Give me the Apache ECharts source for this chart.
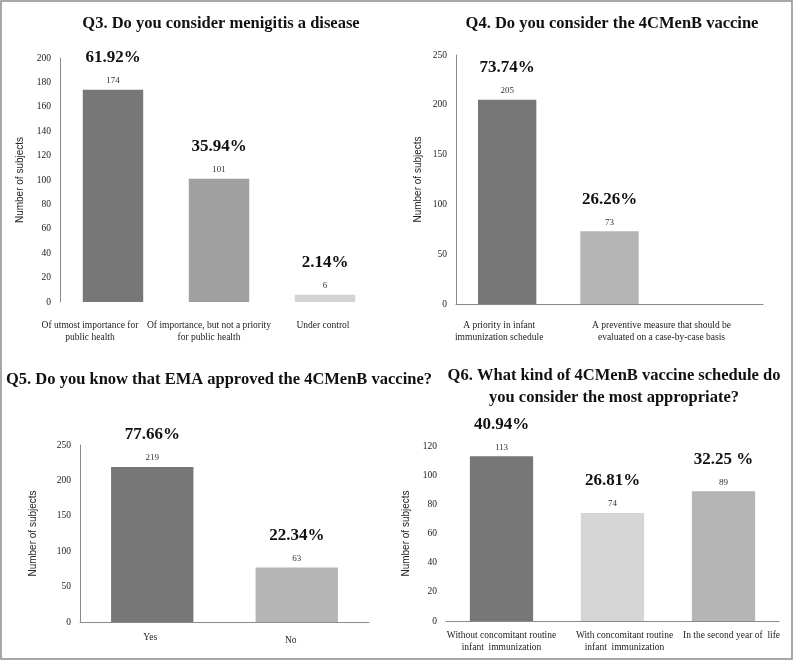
<!DOCTYPE html>
<html>
<head>
<meta charset="utf-8">
<script src="https://cdn.jsdelivr.net/npm/echarts@6/dist/echarts.min.js"></script>
<style>
html,body{margin:0;padding:0;background:#fff;}
#c{width:794px;height:661px;}
</style>
</head>
<body>
<div id="c"></div>
<script>
// ---- Data ----
const q3Title = 'Q3. Do you consider menigitis a disease';
const q3Categories = ['Of utmost importance for\npublic health', 'Of importance, but not a priority\nfor public health', 'Under control'];
const q3Values = [174, 101, 6];
const q3Labels = ['174', '101', '6'];
const q3Percents = ['61.92%', '35.94%', '2.14%'];

const q4Title = 'Q4. Do you consider the 4CMenB vaccine';
const q4Categories = ['A priority in infant\nimmunization schedule', 'A preventive measure that should be\nevaluated on a case-by-case basis', ''];
const q4Values = [205, 73, '-'];
const q4Labels = ['205', '73', ''];
const q4Percents = ['73.74%', '26.26%', ''];

const q5Title = 'Q5. Do you know that EMA approved the 4CMenB vaccine?';
const q5Categories = ['Yes', 'No'];
const q5Values = [219, 77];
const q5Labels = ['219', '63'];
const q5Percents = ['77.66%', '22.34%'];

const q6Title = 'Q6. What kind of 4CMenB vaccine schedule do\nyou consider the most appropriate?';
const q6Categories = ['Without concomitant routine\ninfant  immunization', 'With concomitant routine\ninfant  immunization', 'In the second year of  life'];
const q6Values = [113, 74, 89];
const q6Labels = ['113', '74', '89'];
const q6Percents = ['40.94%', '26.81%', '32.25 %'];

const yName = 'Number of subjects';

// ---- Styles ----
const SERIF = '"Liberation Serif", "Times New Roman", serif';
const SANS = '"Liberation Sans", Arial, sans-serif';
const AXIS_COLOR = '#8a8a8a';

const panels = [
  {title: q3Title, cats: q3Categories, vals: q3Values, lbls: q3Labels, pcts: q3Percents,
   colors: ['#777777', '#a0a0a0', '#d3d3d3'], max: 200, interval: 20,
   grid: {left: 60, top: 58, width: 318, height: 244}, titlePos: [216, 8],
   showY: true, showX: false, nameGap: 35, xMargin: 17,
   xShift: [[-23, 0], [-10, 0], [-2, 0]]},
  {title: q4Title, cats: q4Categories, vals: q4Values, lbls: q4Labels, pcts: q4Percents,
   colors: ['#777777', '#b5b5b5', '#b5b5b5'], max: 250, interval: 50,
   grid: {left: 456, top: 55, width: 307, height: 249}, titlePos: [607, 8],
   showY: true, showX: true, nameGap: 33, xMargin: 15,
   xShift: [[-8, 0], [52, 0], [0, 0]]},
  {title: q5Title, cats: q5Categories, vals: q5Values, lbls: q5Labels, pcts: q5Percents,
   colors: ['#777777', '#b5b5b5'], max: 250, interval: 50,
   grid: {left: 80, top: 445, width: 289, height: 177}, titlePos: [214, 364],
   showY: true, showX: true, nameGap: 42, xMargin: 9,
   xShift: [[-2, 0], [-6, 6]]},
  {title: q6Title, cats: q6Categories, vals: q6Values, lbls: q6Labels, pcts: q6Percents,
   colors: ['#777777', '#d5d5d5', '#b5b5b5'], max: 120, interval: 20,
   grid: {left: 446, top: 446, width: 333, height: 175}, titlePos: [609, 360],
   showY: false, showX: true, nameGap: 35, xMargin: 8,
   xShift: [[0, 0], [12, 0], [8, 0]]}
];

const option = {
  animation: false,
  backgroundColor: '#ffffff',
  title: [], grid: [], xAxis: [], yAxis: [], series: [],
  graphic: [{
    type: 'rect', shape: {x: 1, y: 1, width: 791, height: 658},
    style: {fill: 'none', stroke: '#8c8c8c', lineWidth: 1.5}, silent: true
  }]
};

panels.forEach((p, i) => {
  option.title.push({
    text: p.title, left: p.titlePos[0], top: p.titlePos[1], textAlign: 'center',
    textStyle: {fontFamily: SERIF, fontWeight: 'bold', fontSize: 16.5, color: '#111', lineHeight: 22}
  });
  option.grid.push(Object.assign({containLabel: false}, p.grid));
  const rich = {};
  p.xShift.forEach((s, k) => {
    const dx = s[0], dy = s[1];
    rich['s' + k] = {
      fontFamily: SERIF, fontSize: 9.5, color: '#222', lineHeight: 12,
      padding: [dy, dx < 0 ? -2 * dx : 0, 0, dx > 0 ? 2 * dx : 0]
    };
  });
  option.xAxis.push({
    type: 'category', gridIndex: i, data: p.cats,
    axisLine: {show: p.showX, lineStyle: {color: AXIS_COLOR, width: 1}},
    axisTick: {show: false},
    axisLabel: {
      interval: 0, margin: p.xMargin, fontFamily: SERIF, fontSize: 9.5, color: '#222', lineHeight: 12,
      formatter: (v, idx) => v ? '{s' + idx + '|' + v + '}' : '',
      rich: rich
    }
  });
  option.yAxis.push({
    type: 'value', gridIndex: i, min: 0, max: p.max, interval: p.interval,
    name: yName, nameLocation: 'middle', nameGap: p.nameGap, nameRotate: 90,
    nameTextStyle: {fontFamily: SANS, fontSize: 10, color: '#222'},
    axisLine: {show: p.showY, lineStyle: {color: AXIS_COLOR, width: 1}},
    axisTick: {show: false},
    splitLine: {show: false},
    axisLabel: {margin: 9, fontFamily: SERIF, fontSize: 9.5, color: '#222'}
  });
  option.series.push({
    type: 'bar', xAxisIndex: i, yAxisIndex: i, barWidth: '57%',
    data: p.vals.map((v, j) => ({value: v, itemStyle: {color: p.colors[j]}})),
    label: {
      show: true, position: 'top', distance: 3,
      formatter: (params) => p.pcts[params.dataIndex] ? '{p|' + p.pcts[params.dataIndex] + '}\n{v|' + p.lbls[params.dataIndex] + '}' : '',
      rich: {
        p: {fontFamily: SERIF, fontWeight: 'bold', fontSize: 17, lineHeight: 34, color: '#111'},
        v: {fontFamily: SERIF, fontSize: 9, lineHeight: 12, color: '#333'}
      }
    }
  });
});

const chart = echarts.init(document.getElementById('c'), null, {renderer: 'canvas'});
chart.setOption(option);
</script>
</body>
</html>
